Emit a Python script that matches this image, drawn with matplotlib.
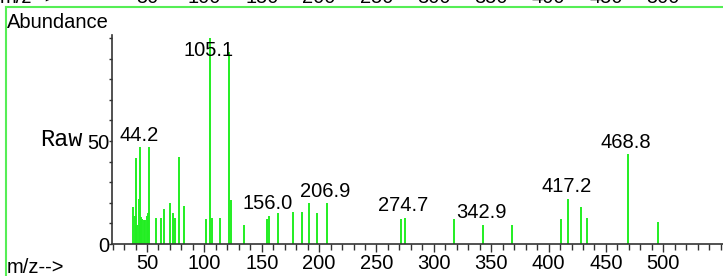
import matplotlib
matplotlib.use("Agg")
from matplotlib import pyplot as plt
from matplotlib.ticker import MultipleLocator
from matplotlib.lines import Line2D

# peak list: m/z and relative abundance
mz = [38.1, 39.4, 40.5, 41.6, 42.8, 44.2, 44.9, 45.7, 47.5, 48.6, 49.8, 51.0,
      51.8, 57.7, 62.6, 65.2, 69.9, 73.0, 74.3, 78.0, 82.1, 101.8, 105.1,
      106.8, 113.5, 121.9, 123.4, 134.8, 154.8, 156.0, 163.8, 177.3, 185.1,
      191.5, 198.2, 206.9, 271.0, 274.7, 317.8, 342.9, 368.1, 410.6, 417.2,
      428.3, 433.9, 468.8, 495.2]
abundance = [18.1, 13.6, 41.6, 9.2, 21.8, 46.9, 13.0, 12.0, 11.7, 11.7, 13.6,
             14.9, 46.9, 12.5, 12.5, 16.8, 20.0, 14.9, 12.5, 42.4, 18.4, 12.0,
             100.0, 12.5, 12.5, 93.3, 21.4, 9.4, 12.0, 13.6, 14.9, 15.5, 15.5,
             19.7, 14.9, 19.7, 12.0, 12.6, 12.0, 9.4, 9.4, 12.0, 21.8, 18.1,
             12.6, 43.5, 10.7]
labeled = ["44.2", "105.1", "156.0", "206.9", "274.7", "342.9", "417.2", "468.8"]
axis_ticks = [50, 100, 150, 200, 250, 300, 350, 400, 450, 500]
y_ticks = [0, 50]

W, H = 723, 276
FS = 14.5
fig = plt.figure(figsize=(W / 100, H / 100), dpi=100)
plt.rcParams["font.family"] = ["Liberation Sans", "DejaVu Sans"]
plt.rcParams["font.monospace"] = ["Liberation Mono", "DejaVu Sans Mono"]

ax = fig.add_axes([112 / W, 32 / H, 611 / W, 209 / H])
ax.vlines(mz, 0, abundance, colors="#22ee22", linewidth=1.4)
ax.set_xlim(19.5, 552)
ax.set_ylim(0, 101.5)

for s in ["top", "right"]:
    ax.spines[s].set_visible(False)
for s in ["left", "bottom"]:
    ax.spines[s].set_color("#333333")
    ax.spines[s].set_linewidth(1.2)

ax.set_xticks(axis_ticks)
ax.xaxis.set_minor_locator(MultipleLocator(10))
ax.set_yticks(y_ticks)
ax.yaxis.set_minor_locator(MultipleLocator(10))
ax.tick_params(axis="x", which="major", length=6, width=1, color="#333333",
               labelsize=FS, pad=1)
ax.tick_params(axis="x", which="minor", length=4, width=1, color="#333333")
ax.tick_params(axis="y", which="major", length=2, width=1, color="#333333",
               labelsize=FS, pad=0)
ax.tick_params(axis="y", which="minor", length=2, width=1, color="#333333")

for lab in labeled:
    x = float(lab)
    i = min(range(len(mz)), key=lambda k: abs(mz[k] - x))
    y = min(abundance[i], 88)
    ax.annotate(lab, (mz[i], y), xytext=(-1, 2), textcoords="offset points",
                ha="center", va="bottom", fontsize=FS)

# page furniture
fig.text(7 / W, 1 - 28 / H, "Abundance", fontsize=FS)
fig.text(7 / W, 3 / H, "m/z-->", fontsize=FS)
fig.text(40 / W, 1 - 146 / H, "Raw", family="monospace", fontsize=17)

# clipped header from the panel above
fig.text(0, 1 - 3 / H, "m/z-->", fontsize=FS)
for t in axis_ticks:
    px = ax.transData.transform((t, 0))[0]
    fig.text(px / W, 1 - 3 / H, str(t), ha="center", fontsize=FS)

fig.add_artist(Line2D([6 / W, 1], [1 - 7 / H, 1 - 7 / H], color="#55ee55",
                      linewidth=1.5))
fig.add_artist(Line2D([6 / W, 6 / W], [0, 1 - 7 / H], color="#55ee55",
                      linewidth=1.5))

fig.savefig("out.png", dpi=100)
